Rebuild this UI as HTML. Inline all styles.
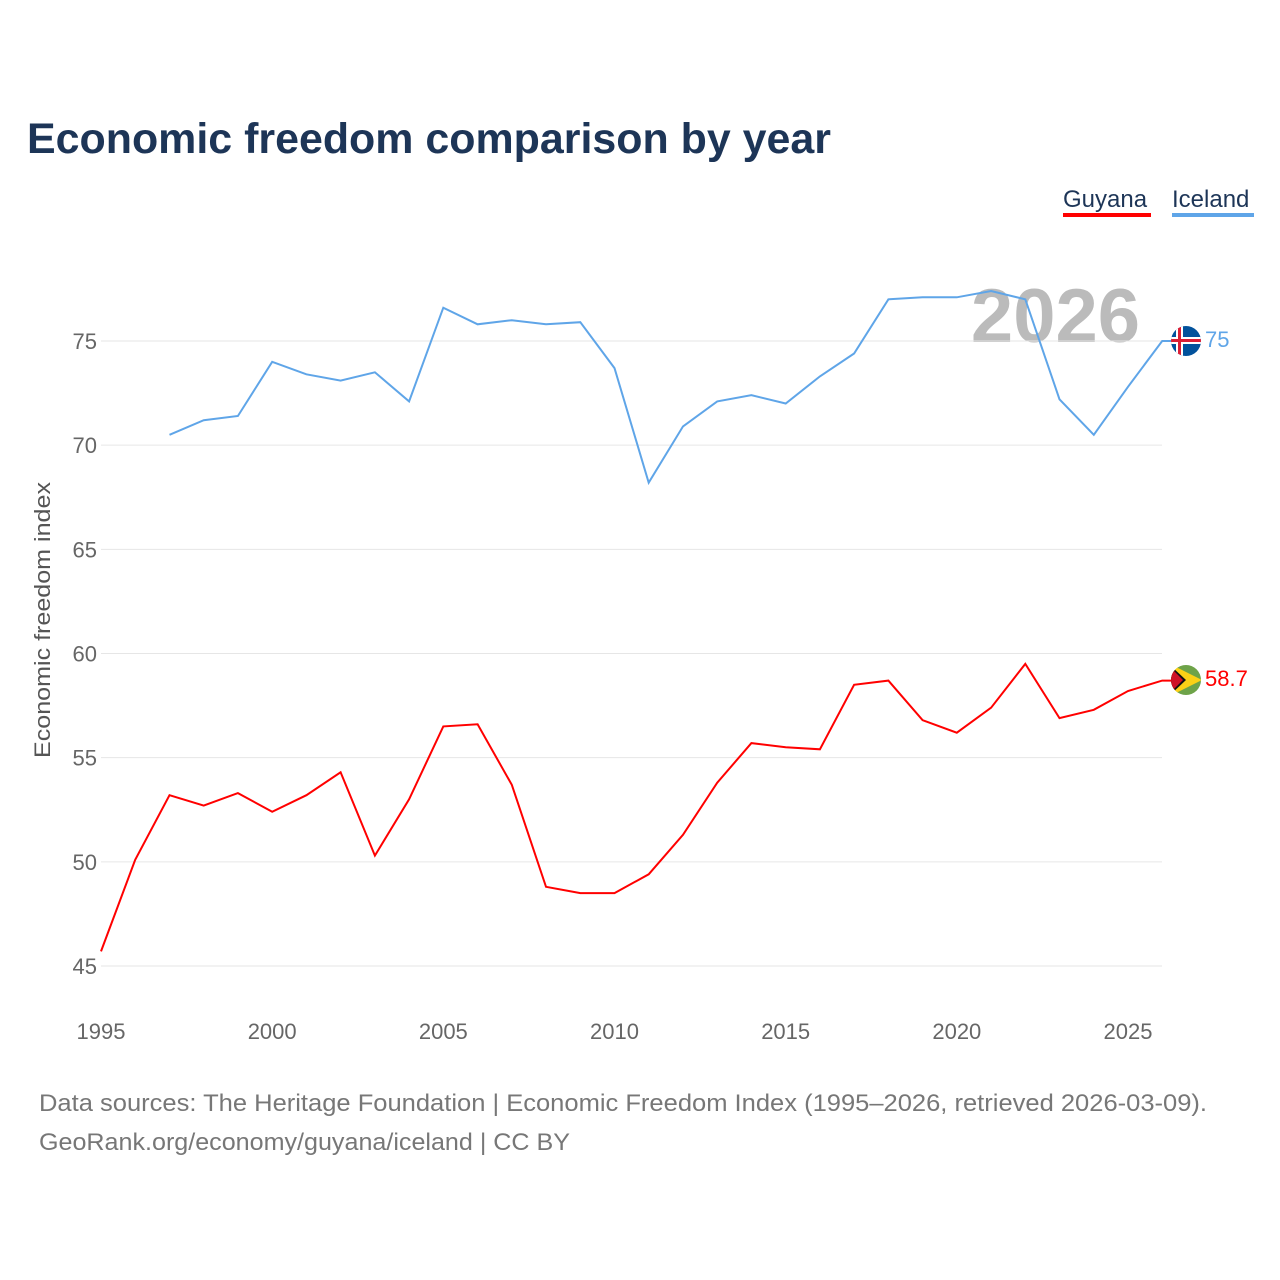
<!DOCTYPE html>
<html><head><meta charset="utf-8"><style>
html,body{margin:0;padding:0;background:#fff;}
svg{display:block;font-family:"Liberation Sans",sans-serif;}
</style></head><body>
<svg id="chart" width="1280" height="1280" viewBox="0 0 1280 1280" xmlns="http://www.w3.org/2000/svg">
<text x="27" y="153" font-size="43" font-weight="bold" fill="#1d3557" textLength="804" lengthAdjust="spacingAndGlyphs">Economic freedom comparison by year</text>
<g><text x="1063" y="207" font-size="24" fill="#1d3557">Guyana</text><rect x="1063" y="213" width="88" height="4" fill="#ff0000"/></g>
<g><text x="1172" y="207" font-size="24" fill="#1d3557">Iceland</text><rect x="1172" y="213" width="82" height="4" fill="#5fa5e8"/></g>
<text x="1140" y="342" text-anchor="end" font-size="76" font-weight="bold" fill="#bbbbbb">2026</text>
<g id="grid"></g><g id="xt"></g>
<text transform="translate(50,620) rotate(-90)" text-anchor="middle" font-size="22" fill="#555" textLength="276" lengthAdjust="spacingAndGlyphs">Economic freedom index</text>
<g id="series"></g>
<g><clipPath id="ci"><circle cx="1186" cy="341" r="15"/></clipPath><g clip-path="url(#ci)"><rect x="1170" y="325" width="32" height="32" fill="#02529c"/><rect x="1176" y="325" width="7" height="32" fill="#fff"/><rect x="1170" y="337" width="32" height="7" fill="#fff"/><rect x="1178" y="325" width="3" height="32" fill="#dc1e35"/><rect x="1170" y="339" width="32" height="3" fill="#dc1e35"/></g></g>
<g><clipPath id="cg"><circle cx="1186" cy="680" r="15"/></clipPath><g clip-path="url(#cg)"><rect x="1170" y="664" width="32" height="32" fill="#6ea349"/><polygon points="1170,664 1202,680 1170,696" fill="#fcd116"/><polygon points="1170,665 1186,680 1170,695" fill="#111"/><polygon points="1170,667 1183,680 1170,693" fill="#ce1126"/></g></g>
<text x="1205" y="347" font-size="22" fill="#5fa5e8">75</text>
<text x="1205" y="686" font-size="22" fill="#ff0000">58.7</text>
<text x="39" y="1111" font-size="24" fill="#777" textLength="1168" lengthAdjust="spacingAndGlyphs">Data sources: The Heritage Foundation | Economic Freedom Index (1995–2026, retrieved 2026-03-09).</text>
<text x="39" y="1150" font-size="24" fill="#777" textLength="531" lengthAdjust="spacingAndGlyphs">GeoRank.org/economy/guyana/iceland | CC BY</text>
</svg>
<script>
const years=[1995,1996,1997,1998,1999,2000,2001,2002,2003,2004,2005,2006,2007,2008,2009,2010,2011,2012,2013,2014,2015,2016,2017,2018,2019,2020,2021,2022,2023,2024,2025,2026];
const guyana=[45.7,50.1,53.2,52.7,53.3,52.4,53.2,54.3,50.3,53.0,56.5,56.6,53.7,48.8,48.5,48.5,49.4,51.3,53.8,55.7,55.5,55.4,58.5,58.7,56.8,56.2,57.4,59.5,56.9,57.3,58.2,58.7];
const iceland=[null,null,70.5,71.2,71.4,74.0,73.4,73.1,73.5,72.1,76.6,75.8,76.0,75.8,75.9,73.7,68.2,70.9,72.1,72.4,72.0,73.3,74.4,77.0,77.1,77.1,77.4,77.0,72.2,70.5,72.8,75.0];
const yTicks=[45,50,55,60,65,70,75];
const xTicks=[1995,2000,2005,2010,2015,2020,2025];
const NS="http://www.w3.org/2000/svg";
const X=y=>101+(y-1995)*(1128-101)/30;
const Y=v=>966-(v-45)*(966-341)/30;
const grid=document.getElementById('grid'),xt=document.getElementById('xt'),ser=document.getElementById('series');
yTicks.forEach(t=>{
 const l=document.createElementNS(NS,'line');
 
 
 l.setAttribute('x1',101);l.setAttribute('x2',1162);l.setAttribute('y1',Y(t));l.setAttribute('y2',Y(t));
 l.setAttribute('stroke','#e6e6e6');l.setAttribute('stroke-width','1');grid.appendChild(l);
 const tx=document.createElementNS(NS,'text');
 
 
 tx.setAttribute('x',97);tx.setAttribute('y',Y(t)+8);tx.setAttribute('text-anchor','end');
 tx.setAttribute('font-size','22');tx.setAttribute('fill','#666');tx.textContent=t;grid.appendChild(tx);
});
xTicks.forEach(t=>{
 const tx=document.createElementNS(NS,'text');
 
 
 tx.setAttribute('x',X(t));tx.setAttribute('y',1039);tx.setAttribute('text-anchor','middle');
 tx.setAttribute('font-size','22');tx.setAttribute('fill','#666');tx.textContent=t;xt.appendChild(tx);
});
function line(vals,color,name){
 let d='';years.forEach((yr,i)=>{const v=vals[i];if(v==null)return;d+=(d?'L':'M')+X(yr).toFixed(1)+','+Y(v).toFixed(1);});
 d+='L1172,'+Y(vals[vals.length-1]).toFixed(1);
 const p=document.createElementNS(NS,'path');
 
 
 p.setAttribute('d',d);p.setAttribute('fill','none');p.setAttribute('stroke',color);p.setAttribute('stroke-width','2');
 ser.appendChild(p);
}
line(iceland,'#5fa5e8','iceland-line');
line(guyana,'#ff0000','guyana-line');
</script>
</body></html>
